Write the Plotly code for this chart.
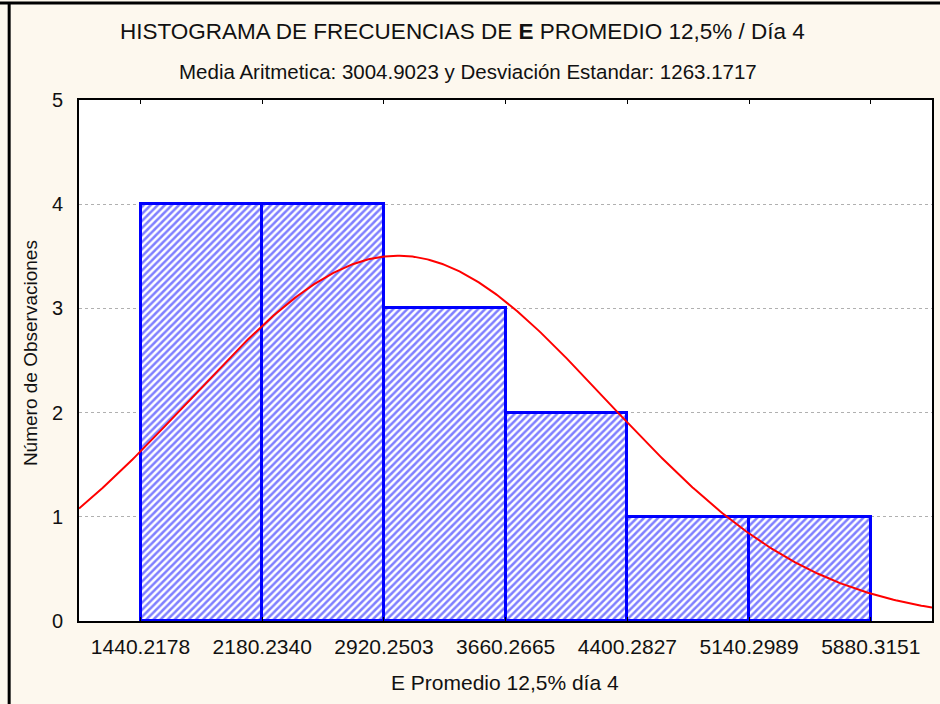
import numpy as np
import plotly.graph_objects as go

# ---- data ----
bin_edges = [1440.2178, 2180.2340, 2920.2503, 3660.2665, 4400.2827, 5140.2989, 5880.3151]
counts = [4, 4, 3, 2, 1, 1]
mean_val = 3004.9023
std_val = 1263.1717
tick_labels = ["1440.2178", "2180.2340", "2920.2503", "3660.2665", "4400.2827", "5140.2989", "5880.3151"]
y_ticks = [0, 1, 2, 3, 4, 5]

title_text = "HISTOGRAMA DE FRECUENCIAS DE <b>E</b> PROMEDIO 12,5% / Día 4"
subtitle_text = "Media Aritmetica: 3004.9023 y Desviación Estandar: 1263.1717"
x_title = "E Promedio 12,5% día 4"
y_title = "Número de Observaciones"

# ---- derived ----
centers = [(a + b) / 2 for a, b in zip(bin_edges[:-1], bin_edges[1:])]
widths = [b - a for a, b in zip(bin_edges[:-1], bin_edges[1:])]
bw = widths[0]
n = sum(counts)
x_range = [bin_edges[0] - 374, bin_edges[-1] + 372]
xc = np.linspace(x_range[0], x_range[1], 400)
yc = n * bw / (std_val * np.sqrt(2 * np.pi)) * np.exp(-0.5 * ((xc - mean_val) / std_val) ** 2)

FONT = "Liberation Sans, Arial, sans-serif"
BG = "#FDF8EE"

fig = go.Figure()
fig.add_trace(go.Bar(
    x=centers, y=counts, width=widths,
    marker=dict(
        color="white",
        line=dict(color="#0000FF", width=3),
        pattern=dict(shape="/", fgcolor="#0000FF", bgcolor="white", size=5, solidity=0.5),
    ),
    showlegend=False, hoverinfo="skip",
))
fig.add_trace(go.Scatter(
    x=xc, y=yc, mode="lines", line=dict(color="#FF0000", width=2),
    showlegend=False, hoverinfo="skip",
))

W, H = 940, 704
L, R, T, B = 79, 6, 100, 83
pw, ph = W - L - R, H - T - B

def px_x(p):
    return (p - L) / pw

def px_y(p):
    return (H - B - p) / ph

fig.update_layout(
    width=W, height=H,
    margin=dict(l=L, r=R, t=T, b=B, pad=0),
    paper_bgcolor=BG, plot_bgcolor="white",
    font=dict(family=FONT, size=20, color="#111111"),
    bargap=0,
    xaxis=dict(
        range=x_range, tickvals=bin_edges, ticktext=tick_labels,
        showgrid=False, zeroline=False,
        showline=True, linecolor="black", linewidth=2, mirror="ticks",
        ticks="inside", ticklen=4, tickcolor="black", tickwidth=1,
        ticklabelstandoff=6, tickfont=dict(size=21),
    ),
    yaxis=dict(
        range=[0, 5], tickvals=y_ticks,
        showgrid=True, gridcolor="#B0B0B0", griddash="dot", gridwidth=1,
        zeroline=False,
        showline=True, linecolor="black", linewidth=2, mirror=True,
        ticks="", ticklabelstandoff=10, tickfont=dict(size=20),
    ),
    annotations=[
        dict(text=title_text, x=px_x(463), y=px_y(32), xref="paper", yref="paper",
             xanchor="center", yanchor="middle", showarrow=False, font=dict(size=22.5)),
        dict(text=subtitle_text, x=px_x(469), y=px_y(71), xref="paper", yref="paper",
             xanchor="center", yanchor="middle", showarrow=False, font=dict(size=20.5)),
        dict(text=x_title, x=px_x(506), y=px_y(682), xref="paper", yref="paper",
             xanchor="center", yanchor="middle", showarrow=False, font=dict(size=21)),
        dict(text=y_title, x=px_x(30), y=px_y(353), xref="paper", yref="paper",
             xanchor="center", yanchor="middle", showarrow=False, textangle=-90,
             font=dict(size=19)),
    ],
    shapes=[
        dict(type="line", xref="paper", yref="paper", x0=px_x(-5), x1=px_x(945),
             y0=px_y(3), y1=px_y(3), line=dict(color="black", width=3)),
        dict(type="line", xref="paper", yref="paper", x0=px_x(9), x1=px_x(9),
             y0=px_y(2), y1=px_y(710), line=dict(color="black", width=3)),
    ],
)

fig.write_html(
    "out.html",
    config={"displayModeBar": False},
    post_script="document.body.style.margin='0';document.body.style.overflow='hidden';",
)
